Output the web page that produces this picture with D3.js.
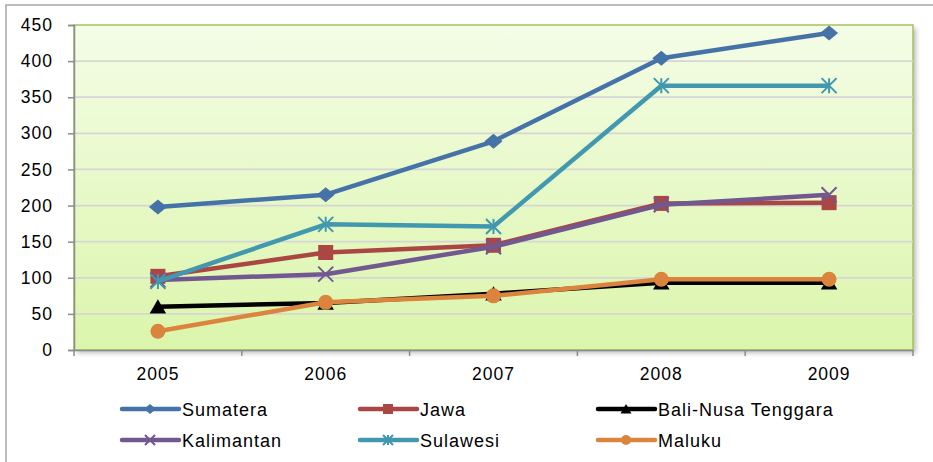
<!DOCTYPE html>
<html><head><meta charset="utf-8">
<script src="https://cdn.jsdelivr.net/npm/d3@7"></script>
<style>body{margin:0;background:#fff}svg{display:block;font-family:"Liberation Sans",Arial,sans-serif}</style>
</head><body><svg id="c" width="933" height="462"></svg>
<script>
const years = ["2005","2006","2007","2008","2009"];
const yTicks = [0,50,100,150,200,250,300,350,400,450];
const sumatera = [198,215,289,404,439];
const jawa = [102,135,145,203,204];
const baliNusa = [60,65,78,93,93];
const kalimantan = [97,105,143,201,215];
const sulawesi = [95,174,171,366,366];
const maluku = [26,66,75,98,98];
const seriesNames = ["Sumatera","Jawa","Bali-Nusa Tenggara","Kalimantan","Sulawesi","Maluku"];

const series = [
  {name:seriesNames[0], values:sumatera, color:"#4572A7", marker:"diamond"},
  {name:seriesNames[1], values:jawa, color:"#AA4643", marker:"square"},
  {name:seriesNames[2], values:baliNusa, color:"#000000", marker:"triangle"},
  {name:seriesNames[3], values:kalimantan, color:"#71588F", marker:"x"},
  {name:seriesNames[4], values:sulawesi, color:"#4198AF", marker:"star"},
  {name:seriesNames[5], values:maluku, color:"#DB843D", marker:"circle"}
];

const svg = d3.select("#c");
const L=74, R=913, T=25, B=350;
const x = d3.scaleBand().domain(years).range([L,R]).padding(0);
const y = d3.scaleLinear().domain([0,450]).range([B,T]);
const cx = d => x(d)+x.bandwidth()/2;

const defs = svg.append("defs");
const g = defs.append("linearGradient").attr("id","bg").attr("x1",0).attr("y1",0).attr("x2",0).attr("y2",1);
g.append("stop").attr("offset","0%").attr("stop-color","#F4FDE6");
g.append("stop").attr("offset","100%").attr("stop-color","#DBF5AB");
const f = defs.append("filter").attr("id","sh").attr("x","-5%").attr("y","-5%").attr("width","115%").attr("height","115%");
f.append("feGaussianBlur").attr("stdDeviation",2.5);

// outer frame
svg.append("rect").attr("x",6).attr("y",5).attr("width",940).attr("height",470)
  .attr("fill","#fff").attr("stroke","#A6A6A6").attr("stroke-width",1.5);

// plot area shadow + bg
svg.append("rect").attr("x",L+3).attr("y",T+3).attr("width",R-L).attr("height",B-T)
  .attr("fill","#bbb").attr("filter","url(#sh)");
svg.append("rect").attr("x",L).attr("y",T).attr("width",R-L).attr("height",B-T)
  .attr("fill","url(#bg)").attr("stroke","#A5C25F").attr("stroke-width",1.5);

// gridlines
svg.append("g").selectAll("line").data(yTicks.filter(v=>v>0&&v<450)).join("line")
  .attr("x1",L).attr("x2",R).attr("y1",d=>y(d)).attr("y2",d=>y(d))
  .attr("stroke","#D6D6D6").attr("stroke-width",1.8);

// y axis
const ya = svg.append("g").attr("transform",`translate(${L},0)`)
  .call(d3.axisLeft(y).tickValues(yTicks).tickSize(6).tickPadding(15));
ya.select(".domain").attr("stroke","#8C8C8C").attr("stroke-width",1.5);
ya.selectAll(".tick line").attr("stroke","#8C8C8C").attr("stroke-width",1.5);
ya.selectAll(".tick text").attr("font-size",17.5).attr("letter-spacing","1px").attr("fill","#000").attr("font-family","Liberation Sans, Arial");

// x axis
const xa = svg.append("g").attr("transform",`translate(0,${B})`)
  .call(d3.axisBottom(x).tickSize(0).tickPadding(18));
xa.select(".domain").attr("stroke","#8C8C8C").attr("stroke-width",1.5);
xa.selectAll(".tick text").attr("font-size",17.5).attr("letter-spacing","1px").attr("fill","#000").attr("font-family","Liberation Sans, Arial");
svg.append("g").selectAll("line").data([...years.map(d=>x(d)), R]).join("line")
  .attr("x1",d=>d).attr("x2",d=>d).attr("y1",B).attr("y2",B+6)
  .attr("stroke","#8C8C8C").attr("stroke-width",1.5);

function marker(sel, type, color, s){
  if(type==="circle") sel.append("circle").attr("r",s*0.5).attr("fill",color);
  else if(type==="diamond") sel.append("path").attr("d",`M0,${-s*0.5}L${s*0.6},0L0,${s*0.5}L${-s*0.6},0Z`).attr("fill",color);
  else if(type==="square") sel.append("rect").attr("x",-s/2).attr("y",-s/2).attr("width",s).attr("height",s).attr("fill",color);
  else if(type==="triangle") sel.append("path").attr("d",`M0,${-s*0.5}L${s*0.55},${s*0.45}L${-s*0.55},${s*0.45}Z`).attr("fill",color);
  else if(type==="x") sel.append("path").attr("d",`M${-s/2},${-s/2}L${s/2},${s/2}M${s/2},${-s/2}L${-s/2},${s/2}`).attr("stroke",color).attr("stroke-width",2);
  else if(type==="star") sel.append("path").attr("d",`M${-s/2},${-s/2}L${s/2},${s/2}M${s/2},${-s/2}L${-s/2},${s/2}M0,${-s/2}L0,${s/2}`).attr("stroke",color).attr("stroke-width",2);
}

const line = d3.line().x((d,i)=>cx(years[i])).y(d=>y(d));
series.forEach(s=>{
  const gg = svg.append("g");
  gg.append("path").attr("d",line(s.values)).attr("fill","none").attr("stroke",s.color).attr("stroke-width",4.5).attr("stroke-linejoin","round");
  s.values.forEach((v,i)=>{
    const m = gg.append("g").attr("transform",`translate(${cx(years[i])},${y(v)})`);
    marker(m, s.marker, s.color, 15);
  });
});

// legend
const legX = [122,360,598], legY=[409,440];
series.forEach((s,i)=>{
  const lx = legX[i%3], ly = legY[Math.floor(i/3)];
  const lg = svg.append("g").attr("transform",`translate(${lx},${ly})`);
  lg.append("line").attr("x1",0).attr("x2",57).attr("y1",0).attr("y2",0).attr("stroke",s.color).attr("stroke-width",4.5).attr("stroke-linecap","round");
  const m = lg.append("g").attr("transform","translate(28,0)");
  marker(m, s.marker, s.color, 10);
  lg.append("text").attr("x",60).attr("y",6.5).attr("font-size",18).attr("letter-spacing","1px").attr("fill","#000").text(s.name);
});
</script></body></html>
